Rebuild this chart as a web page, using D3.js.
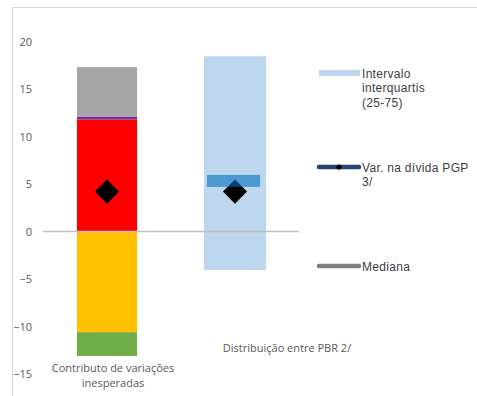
<!DOCTYPE html>
<html>
<head>
<meta charset="utf-8">
<script src="https://cdn.jsdelivr.net/npm/d3@7"></script>
<style>
  html, body { margin: 0; padding: 0; background: #fff; }
  svg { display: block; }
</style>
</head>
<body>
<svg id="chart" width="477" height="396"></svg>
<script>
// Categories on the x axis
const categories = ["Contributo de variações inesperadas", "Distribuição entre PBR 2/"];
const categoryLines = [["Contributo de variações", "inesperadas"], ["Distribuição entre PBR 2/"]];

// Stacked contributions (first category)
const positiveParts = [11.8, 0.3, 5.2];
const positiveColors = ["#FF0000", "#7030A0", "#A5A5A5"];
const negativeParts = [-10.6, -2.5];
const negativeColors = ["#FFC000", "#70AD47"];

// Distribution across the peer group (second category)
const interquartile = [-4.05, 18.45];
const median = 5.33;

// Change in public debt, shown on both categories
const debtChange = [4.2, 4.2];

// Axis ticks
const yTicks = [-15, -10, -5, 0, 5, 10, 15, 20];

// Legend entries
const legendItems = [
  { type: "rect", lines: ["Intervalo", "interquartis", "(25-75)"] },
  { type: "var", lines: ["Var. na dívida PGP", "3/"] },
  { type: "median", lines: ["Mediana"] }
];

const svg = d3.select("#chart");

const y = d3.scaleLinear().domain([-15, 20]).range([374, 41.5]);
const x = d3.scaleBand().domain(categories).range([43, 299]).paddingInner(0.53).paddingOuter(0.265);
const bw = x.bandwidth();

// Chart frame (top and left edges visible)
svg.append("rect")
  .attr("x", 12.5).attr("y", 7.5)
  .attr("width", 500).attr("height", 420)
  .attr("fill", "none").attr("stroke", "#D9D9D9").attr("stroke-width", 1);

// Y axis labels
const yAxis = d3.axisLeft(y).tickValues(yTicks).tickSize(0).tickPadding(0).tickFormat(d3.format("d"));
const yg = svg.append("g").attr("transform", "translate(32,0)").call(yAxis);
yg.select(".domain").remove();
yg.selectAll("text")
  .attr("fill", "#595959")
  .style("font-family", "'Open Sans', sans-serif")
  .style("font-size", "11px");

// Stacked bars for the contributions
const c0 = categories[0];
let acc = 0;
positiveParts.forEach((v, i) => {
  svg.append("rect")
    .attr("x", x(c0)).attr("width", bw)
    .attr("y", y(acc + v)).attr("height", y(acc) - y(acc + v))
    .attr("fill", positiveColors[i]);
  acc += v;
});
acc = 0;
negativeParts.forEach((v, i) => {
  svg.append("rect")
    .attr("x", x(c0)).attr("width", bw)
    .attr("y", y(acc)).attr("height", y(acc + v) - y(acc))
    .attr("fill", negativeColors[i]);
  acc += v;
});

// Interquartile range
const c1 = categories[1];
svg.append("rect")
  .attr("x", x(c1) - 1).attr("width", bw + 2)
  .attr("y", y(interquartile[1])).attr("height", y(interquartile[0]) - y(interquartile[1]))
  .attr("fill", "#BDD7EE");

// Zero line
svg.append("line")
  .attr("x1", 43).attr("x2", 299)
  .attr("y1", y(0)).attr("y2", y(0))
  .attr("stroke", "#BFBFBF").attr("stroke-width", 1.5);

// Debt change markers (square turned 45 degrees)
const diamond = d3.symbol().type(d3.symbolSquare).size(290);
categories.forEach((c, i) => {
  svg.append("path")
    .attr("d", diamond())
    .attr("transform", `translate(${x(c) + bw / 2},${y(debtChange[i])}) rotate(45)`)
    .attr("fill", "#000");
});

// Median marker
svg.append("rect")
  .attr("x", x(c1) + 2).attr("width", bw - 7)
  .attr("y", y(median) - 6).attr("height", 12)
  .attr("fill", "rgb(0,110,190)").attr("fill-opacity", 0.6);

// Category labels
const catOffsets = [6, 52];
const catY = [372, 352];
categories.forEach((c, i) => {
  const cx = x(c) + bw / 2 + catOffsets[i];
  const t = svg.append("text")
    .attr("x", cx)
    .attr("y", catY[i])
    .attr("text-anchor", "middle")
    .attr("fill", "#595959")
    .style("font-family", "'Open Sans', sans-serif")
    .style("font-size", "11px");
  categoryLines[i].forEach((ln, j) => {
    t.append("tspan").attr("x", cx).attr("dy", j === 0 ? 0 : 14.5).text(ln);
  });
});

// Legend
const legendTop = [73, 167, 266];
const lg = svg.append("g");
legendItems.forEach((item, i) => {
  const cy = legendTop[i];
  if (item.type === "rect") {
    lg.append("rect").attr("x", 319).attr("y", cy - 3).attr("width", 41).attr("height", 6).attr("fill", "#BDD7EE");
  } else if (item.type === "var") {
    lg.append("line").attr("x1", 319).attr("x2", 359).attr("y1", cy).attr("y2", cy)
      .attr("stroke", "#264478").attr("stroke-width", 4.5).attr("stroke-linecap", "round");
    lg.append("circle").attr("cx", 339).attr("cy", cy).attr("r", 2.6).attr("fill", "#000");
  } else {
    lg.append("line").attr("x1", 319).attr("x2", 359).attr("y1", cy).attr("y2", cy)
      .attr("stroke", "#7F7F7F").attr("stroke-width", 4.5).attr("stroke-linecap", "round");
  }
  const t = lg.append("text")
    .attr("x", 362).attr("y", cy + 4.5)
    .attr("fill", "#404040")
    .style("font-family", "'Liberation Sans', Arial, sans-serif")
    .style("font-size", "12px")
    .style("letter-spacing", "0.3px");
  item.lines.forEach((ln, j) => {
    t.append("tspan").attr("x", 362).attr("dy", j === 0 ? 0 : 14.5).text(ln);
  });
});
</script>
</body>
</html>
